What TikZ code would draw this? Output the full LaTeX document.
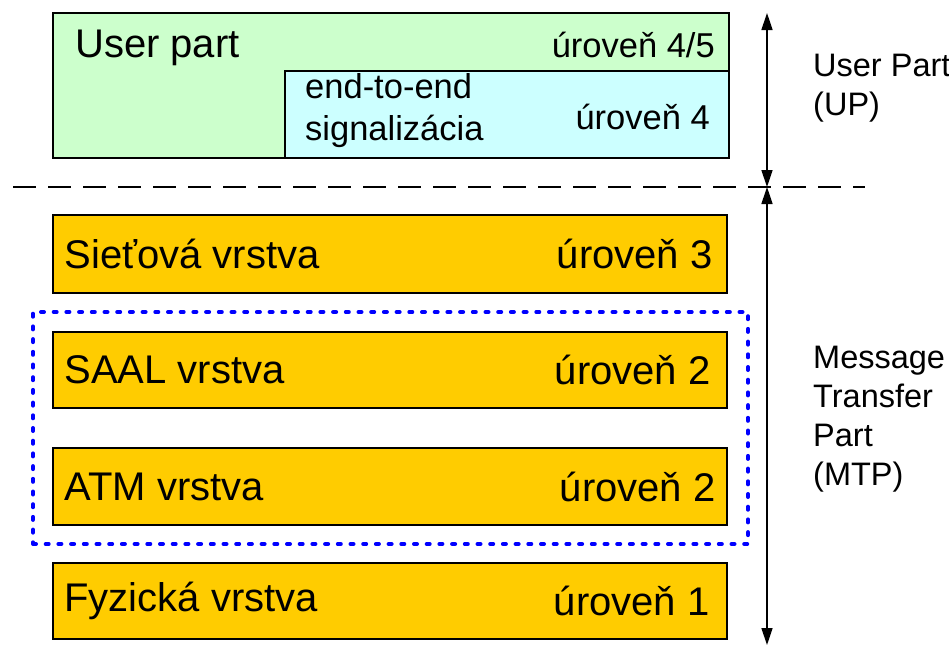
\documentclass[tikz,border=0pt]{standalone}
\usepackage{fontspec}
\setmainfont{Liberation Sans}
\usepackage{xcolor}
\usetikzlibrary{arrows.meta}
\definecolor{upgreen}{RGB}{204,255,204}
\definecolor{e2ecyan}{RGB}{204,255,255}
\definecolor{layerorange}{RGB}{255,204,0}
\newcommand{\bigtxt}{\fontsize{40}{44}\selectfont}
\newcommand{\midtxt}{\fontsize{34.5}{42}\selectfont}
\newcommand{\sidetxt}{\fontsize{32.5}{39}\selectfont}
\begin{document}
\begin{tikzpicture}[x=1pt, y=-1pt,
    layerbox/.style={draw, line width=1.5pt, rectangle, fill=layerorange, minimum width=674pt, inner sep=0pt},
    lefttxt/.style={anchor=west, inner sep=0pt, font=\bigtxt},
    righttxt/.style={anchor=east, inner sep=0pt, font=\bigtxt},
    sidelabel/.style={anchor=west, align=left, inner sep=0pt, font=\sidetxt},
    partarrow/.style={{Triangle[length=17pt,width=11pt]}-{Triangle[length=17pt,width=11pt]}, line width=1.5pt}]
    \useasboundingbox (0,0) rectangle (949,646);

    % user part
    \node [draw, line width=1.5pt, rectangle, fill=upgreen, minimum width=676pt, minimum height=145pt, inner sep=0pt] (user) at (391,85.5) {};
    \node [draw, line width=1.5pt, rectangle, fill=e2ecyan, minimum width=444pt, minimum height=87pt, inner sep=0pt] (e2e) at (507,114.5) {};
    \node [lefttxt] (usertxt) at (75,48) {User part};
    \node [righttxt, font=\midtxt] (userlvl) at (715,45) {úroveň 4/5};
    \node [anchor=west, align=left, inner sep=0pt, font=\midtxt] (e2etxt) at (305,111) {end-to-end\\signalizácia};
    \node [righttxt, font=\midtxt] (e2elvl) at (710,117) {úroveň 4};

    % MTP layers
    \node [layerbox, minimum height=78pt] (siet) at (390,254) {};
    \node [layerbox, minimum height=76pt] (saal) at (390,370) {};
    \node [layerbox, minimum height=77pt] (atm) at (390,486.5) {};
    \node [layerbox, minimum height=76pt] (fyz) at (390,601) {};
    \node [lefttxt] at ([xshift=12pt]siet.west) {Sieťová vrstva};
    \node [righttxt] at ([xshift=-15pt]siet.east) {úroveň 3};
    \node [lefttxt] at ([xshift=12pt]saal.west) {SAAL vrstva};
    \node [righttxt] at ([xshift=-17pt]saal.east) {úroveň 2};
    \node [lefttxt] at ([xshift=12pt]atm.west) {ATM vrstva};
    \node [righttxt] at ([xshift=-12pt]atm.east) {úroveň 2};
    \node [lefttxt] at ([xshift=12pt]fyz.west) {Fyzická vrstva};
    \node [righttxt] at ([xshift=-18pt]fyz.east) {úroveň 1};

    % SAAL + ATM group
    \node [draw=blue, line width=4pt, dash pattern=on 3pt off 9.7pt, line cap=round, rectangle, minimum width=715pt, minimum height=232pt, inner sep=0pt] (saalatm) at (390.5,428) {};

    % separator and arrows
    \coordinate (sepL) at (13,187);
    \coordinate (sepR) at (865,187);
    \coordinate (uptop) at (767,13);
    \coordinate (sep) at (767,187);
    \coordinate (mtpbot) at (767,645);
    \draw [line width=2pt, dash pattern=on 23pt off 12pt] (sepL) -- (sepR);
    \draw [partarrow] (uptop) -- (sep);
    \draw [partarrow] (sep) -- (mtpbot);

    \node [sidelabel] (uplbl) at (813,88) {User Part\\(UP)};
    \node [sidelabel] (mtplbl) at (813,419) {Message\\Transfer\\Part\\(MTP)};
\end{tikzpicture}
\end{document}
